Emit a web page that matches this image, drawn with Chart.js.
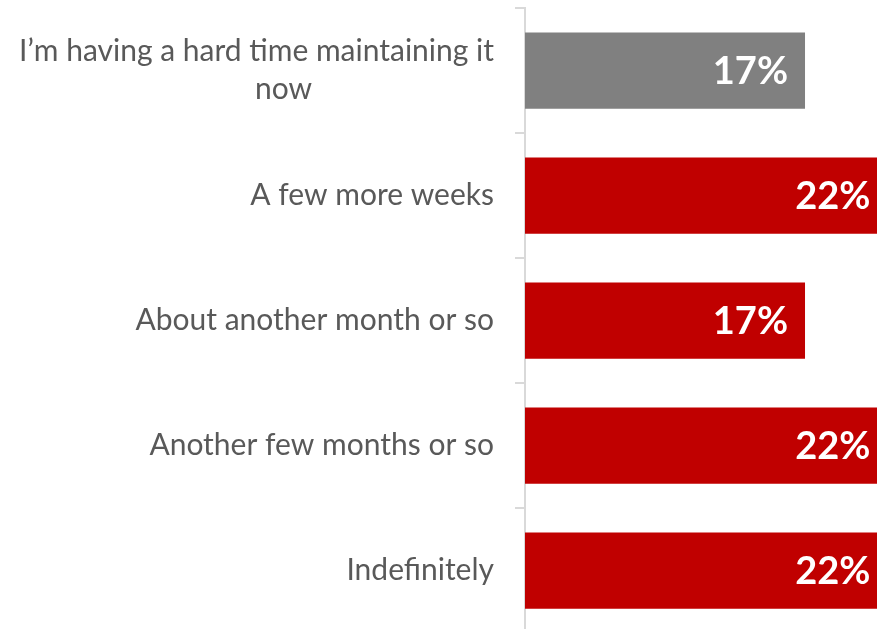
<!DOCTYPE html>
<html>
<head>
<meta charset="utf-8">
<script src="https://cdn.jsdelivr.net/npm/chart.js@4/dist/chart.umd.min.js"></script>
<style>
  html, body { margin: 0; padding: 0; background: #fff; overflow: hidden; }
  #wrap { width: 877px; height: 629px; overflow: hidden; }
</style>
</head>
<body>
<div id="wrap"><canvas id="chart" width="877" height="640"></canvas></div>
<script>
// Answers and shares (percent)
const categories = [
    ['I\u2019m having a hard time maintaining it', 'now'],
    'A few more weeks',
    'About another month or so',
    'Another few months or so',
    'Indefinitely'
];
const values = [17, 22, 17, 22, 22];
const barColors = ['#808080', '#C00000', '#C00000', '#C00000', '#C00000'];

// Category labels drawn to the left of the axis
const categoryLabels = {
    id: 'categoryLabels',
    afterDraw(chart) {
        const ctx = chart.ctx;
        const yScale = chart.scales.y;
        ctx.save();
        ctx.font = '30px Lato, "Open Sans", sans-serif';
        ctx.fillStyle = '#595959';
        ctx.textBaseline = 'middle';
        categories.forEach((label, i) => {
            const y = yScale.getPixelForValue(i);
            if (Array.isArray(label)) {
                const w = ctx.measureText(label[0]).width;
                const cx = 494 - w / 2;
                ctx.textAlign = 'center';
                ctx.fillText(label[0], cx, y - 19);
                ctx.fillText(label[1], cx + 27, y + 19);
            } else {
                ctx.textAlign = 'right';
                ctx.fillText(label, 494, y);
            }
        });
        ctx.restore();
    }
};

// Value labels inside the bar ends
const valueLabels = {
    id: 'valueLabels',
    afterDatasetsDraw(chart) {
        const ctx = chart.ctx;
        const meta = chart.getDatasetMeta(0);
        ctx.save();
        ctx.font = 'bold 38px Lato, "Open Sans", sans-serif';
        ctx.fillStyle = '#ffffff';
        ctx.textAlign = 'right';
        ctx.textBaseline = 'middle';
        meta.data.forEach((bar, i) => {
            ctx.fillText(values[i] + '%', bar.x - 17, bar.y + 1);
        });
        ctx.restore();
    }
};

new Chart(document.getElementById('chart'), {
    type: 'bar',
    data: {
        labels: categories,
        datasets: [{
            data: values,
            backgroundColor: barColors,
            barPercentage: 0.61,
            categoryPercentage: 1
        }]
    },
    options: {
        indexAxis: 'y',
        responsive: false,
        animation: false,
        layout: { padding: { top: 8, bottom: 7, left: 0, right: 0 } },
        plugins: {
            legend: { display: false },
            tooltip: { enabled: false }
        },
        scales: {
            x: {
                display: false,
                min: 0,
                max: 21.37
            },
            y: {
                offset: true,
                ticks: { display: false },
                grid: {
                    drawOnChartArea: false,
                    drawTicks: true,
                    tickLength: 10,
                    color: '#d9d9d9',
                    lineWidth: 2
                },
                border: { color: '#d9d9d9', width: 2 },
                afterFit(scale) { scale.width = 525; }
            }
        }
    },
    plugins: [categoryLabels, valueLabels]
});
</script>
</body>
</html>
